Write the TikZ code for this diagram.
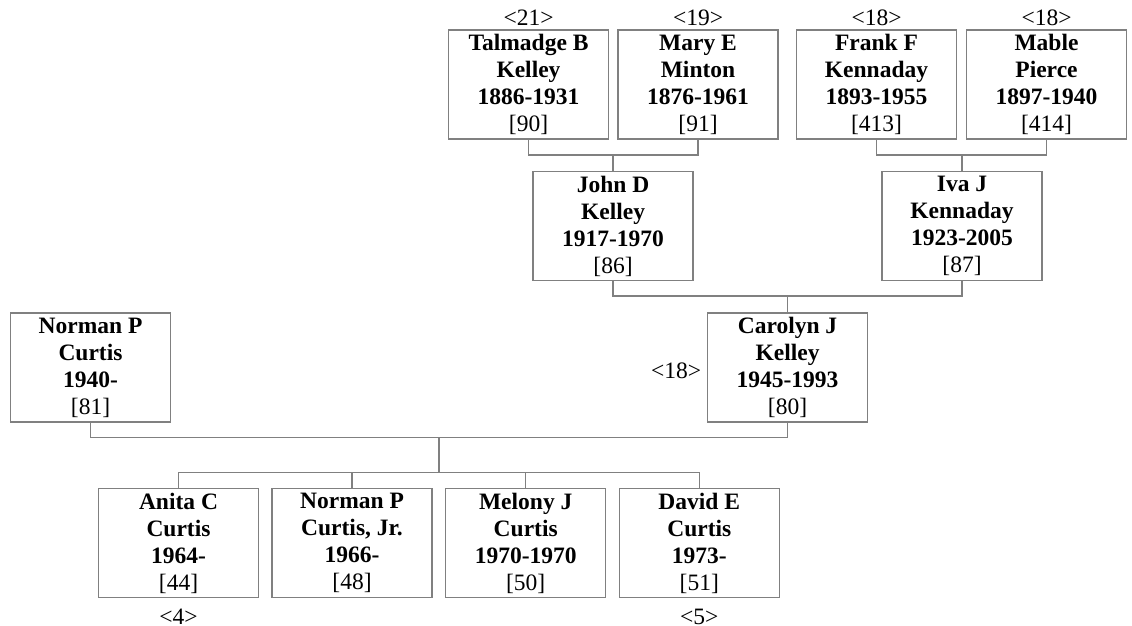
\documentclass[tikz,border=0pt]{standalone}
\usepackage{fontspec}
\setmainfont{Liberation Serif}
\definecolor{linegray}{RGB}{128,128,128}
\tikzset{
  person/.style={draw=linegray, line width=1.2pt, rectangle, minimum width=160pt, minimum height=109pt,
    inner sep=0pt, align=center, font=\fontsize{23.5}{27}\selectfont},
  gen/.style={font=\fontsize{23.5}{27}\selectfont, inner sep=0pt},
  link/.style={draw=linegray, line width=1.2pt},
}
\newcommand{\pers}[4]{\textbf{#1}\\\textbf{#2}\\\textbf{#3}\\{#4}}
\begin{document}
\begin{tikzpicture}[x=1pt,y=-1pt]
\useasboundingbox (0,0) rectangle (1132,626);
% row 1
\node[person] (tal) at (528.5,84.5) {\pers{Talmadge B}{Kelley}{1886-1931}{[90]}};
\node[person] (mar) at (698,84.5) {\pers{Mary E}{Minton}{1876-1961}{[91]}};
\node[person] (fra) at (876.5,84.5) {\pers{Frank F}{Kennaday}{1893-1955}{[413]}};
\node[person] (mab) at (1046.5,84.5) {\pers{Mable}{Pierce}{1897-1940}{[414]}};
% row 2
\node[person] (joh) at (613,226.2) {\pers{John D}{Kelley}{1917-1970}{[86]}};
\node[person] (iva) at (962,226.2) {\pers{Iva J}{Kennaday}{1923-2005}{[87]}};
% row 3
\node[person] (nor) at (90.5,367.5) {\pers{Norman P}{Curtis}{1940-}{[81]}};
\node[person] (car) at (787.5,367.5) {\pers{Carolyn J}{Kelley}{1945-1993}{[80]}};
% row 4
\node[person] (ani) at (178.5,543.3) {\pers{Anita C}{Curtis}{1964-\hspace*{.25em}}{[44]}};
\node[person] (noj) at (352,543.3) {\pers{Norman P}{Curtis, Jr.}{1966-}{[48]}};
\node[person] (mel) at (525.7,543.3) {\pers{Melony J}{Curtis}{1970-1970}{[50]}};
\node[person] (dav) at (699.3,543.3) {\pers{David E}{Curtis}{1973-\hspace*{.25em}}{[51]}};
% generation labels
\node[gen, anchor=base] (gtal) at ([yshift=4pt]tal.north) {<21>};
\node[gen, anchor=base] (gmar) at ([yshift=4pt]mar.north) {<19>};
\node[gen, anchor=base] (gfra) at ([yshift=4pt]fra.north) {<18>};
\node[gen, anchor=base] (gmab) at ([yshift=4pt]mab.north) {<18>};
\node[gen, anchor=base east] (gcar) at ([xshift=-5.5pt,yshift=-10.5pt]car.west) {<18>};
\node[gen, anchor=base] (gani) at ([yshift=-26pt]ani.south) {<4>};
\node[gen, anchor=base] (gdav) at ([yshift=-26pt]dav.south) {<5>};
% connectors
\coordinate (j1) at (613,155);
\coordinate (i1) at (962,155);
\coordinate (c1) at (787.5,296);
\coordinate (n1) at (439,437.7);
\coordinate (k1) at (439,472.7);
\draw[link] (tal.south) |- (j1) -| (mar.south);
\draw[link] (j1) -- (joh.north);
\draw[link] (fra.south) |- (i1) -| (mab.south);
\draw[link] (i1) -- (iva.north);
\draw[link] (joh.south) |- (c1) -| (iva.south);
\draw[link] (c1) -- (car.north);
\draw[link] (nor.south) |- (n1) -| (car.south);
\draw[link] (n1) -- (k1);
\draw[link] (ani.north) |- (k1) -| (dav.north);
\draw[link] (noj.north) |- (k1);
\draw[link] (mel.north) |- (k1);
\end{tikzpicture}
\end{document}
